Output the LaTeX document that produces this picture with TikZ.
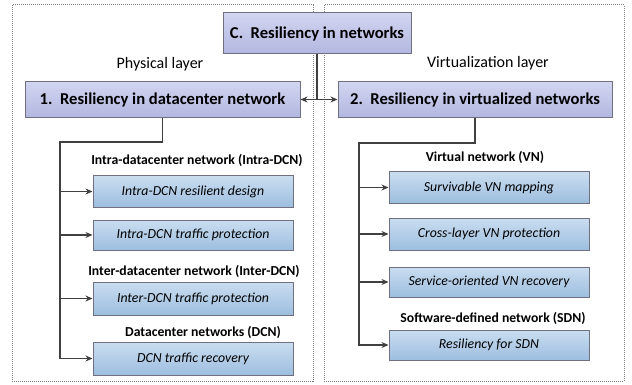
\documentclass[tikz,border=0pt]{standalone}
\usepackage{fontspec}
\setmainfont{Carlito}
\usetikzlibrary{arrows.meta}
\definecolor{lavtop}{HTML}{D2D5F0}
\definecolor{lavbot}{HTML}{B2B7E0}
\definecolor{bluetop}{HTML}{CADDF0}
\definecolor{bluebot}{HTML}{9DBEDF}
\definecolor{edgegray}{HTML}{707080}
\definecolor{darkline}{HTML}{404040}
\tikzset{
  mainbox/.style={draw=edgegray, line width=1pt, top color=lavtop, bottom color=lavbot,
    inner sep=0pt, font=\fontsize{16.6}{18}\selectfont\bfseries},
  subbox/.style={draw=edgegray, line width=1pt, top color=bluetop, bottom color=bluebot,
    inner sep=0pt, minimum width=200pt, font=\fontsize{13.8}{15}\selectfont\itshape},
  head/.style={font=\fontsize{13.7}{15}\selectfont\bfseries},
  layertxt/.style={font=\fontsize{16}{18}\selectfont},
  layerbox/.style={draw=gray, densely dotted, line width=1pt},
  link/.style={draw=darkline, line width=1.8pt},
  tip/.style={-{Stealth[length=7pt,width=6pt]}}
}
\begin{document}
\begin{tikzpicture}[x=1pt,y=-1pt]
  \useasboundingbox (0,0) rectangle (632,385);
  % layers
  \draw[layerbox] (12,5) rectangle (313,381);
  \draw[layerbox] (324,5) rectangle (624,381);
  \node[layertxt] (phys) at (160,64) {Physical layer};
  \node[layertxt] (virt) at (488,63) {Virtualization layer};
  % top level
  \node[mainbox, minimum width=188pt, minimum height=41pt] (top) at (317,33.5) {C.\ \ Resiliency in networks};
  \node[mainbox, minimum width=275pt, minimum height=36pt] (dcn) at (162.5,99.5) {1.\ \ Resiliency in datacenter network};
  \node[mainbox, minimum width=274pt, minimum height=36pt] (vnet) at (475,99.5) {2.\ \ Resiliency in virtualized networks};
  % physical side
  \node[head] (h1) at (197,160) {Intra-datacenter network (Intra-DCN)};
  \node[subbox, minimum height=31pt] (s1) at (193,191.5) {Intra-DCN resilient design};
  \node[subbox, minimum height=30pt] (s2) at (193,235) {Intra-DCN traffic protection};
  \node[head] (h2) at (194,271) {Inter-datacenter network (Inter-DCN)};
  \node[subbox, minimum height=33pt] (s3) at (193,298.5) {Inter-DCN traffic protection};
  \node[head] (h3) at (203,332) {Datacenter networks (DCN)};
  \node[subbox, minimum height=33pt] (s4) at (193,358.5) {DCN traffic recovery};
  % virtualization side
  \node[head] (h4) at (485,157) {Virtual network (VN)};
  \node[subbox, minimum height=31pt] (v1) at (489,187.5) {Survivable VN mapping};
  \node[subbox, minimum height=32pt] (v2) at (489,234) {Cross-layer VN protection};
  \node[subbox, minimum height=30pt] (v3) at (489,282) {Service-oriented VN recovery};
  \node[head] (h5) at (493,318) {Software-defined network (SDN)};
  \node[subbox, minimum height=30pt] (v4) at (489,345) {Resiliency for SDN};
  % connectors
  \draw[link] (top.south) -- (top.south |- dcn.east);
  \draw[link, {Stealth[length=7pt,width=6pt]}-{Stealth[length=7pt,width=6pt]}] (dcn.east) -- (vnet.west);
  \coordinate (ltrunk) at (60,142);
  \coordinate (rtrunk) at (359,143);
  \draw[link, tip] (dcn.south) |- (ltrunk) |- (s4.west);
  \foreach \n in {s1,s2,s3}
    \draw[link, tip] (ltrunk |- \n.west) -- (\n.west);
  \draw[link, tip] (vnet.south) |- (rtrunk) |- (v4.west);
  \foreach \n in {v1,v2,v3}
    \draw[link, tip] (rtrunk |- \n.west) -- (\n.west);
\end{tikzpicture}
\end{document}
